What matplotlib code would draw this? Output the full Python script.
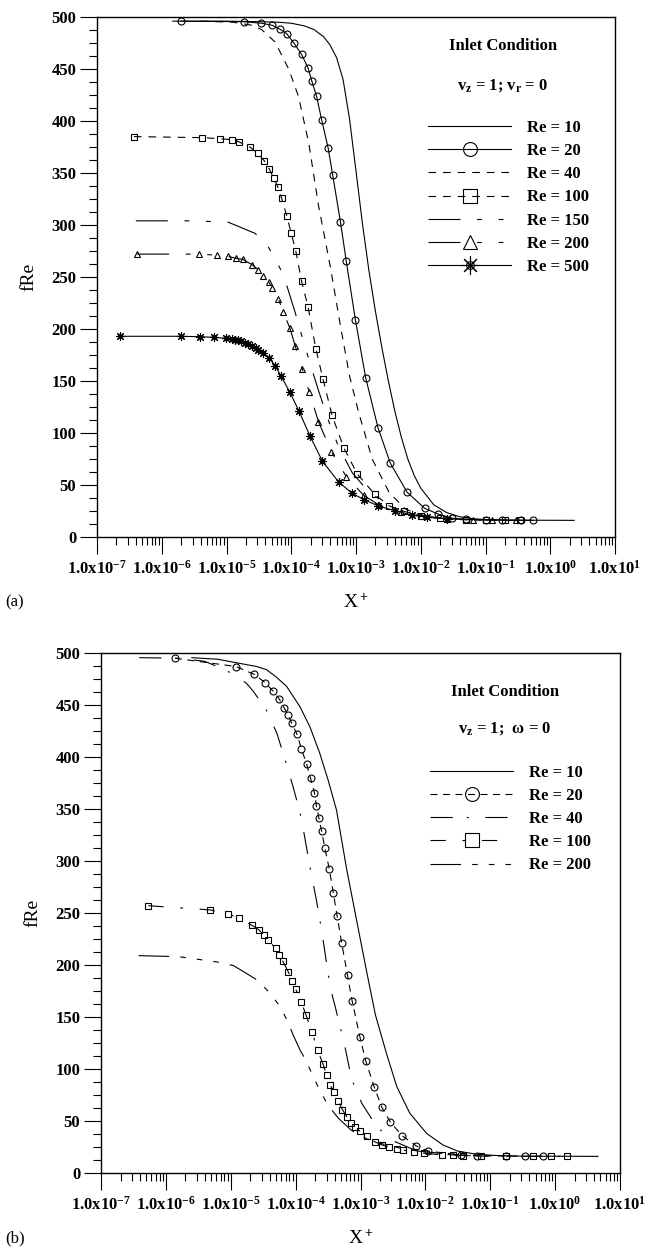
import numpy as np
import matplotlib
matplotlib.use('Agg')
import matplotlib.pyplot as plt
import matplotlib.ticker as mticker
from matplotlib.lines import Line2D
from matplotlib.legend_handler import HandlerTuple

plt.rcParams.update({
    'font.family':       'serif',
    'font.serif':        ['Liberation Serif', 'DejaVu Serif'],
    'font.weight':       'bold',
    'font.size':         12,
    'mathtext.fontset':  'custom',
    'mathtext.rm':       'Liberation Serif:bold',
    'mathtext.it':       'Liberation Serif:bold',
    'mathtext.bf':       'Liberation Serif:bold',
    'mathtext.default':  'rm',
    'lines.scale_dashes': False,
    'axes.linewidth':    1.0,
})

# ---- panel (a): inlet v_z = 1, v_r = 0  (x values are log10 of X+) ----
a_re10_logx = [-5.83, -5.0, -4.5, -4.2, -4.0, -3.8, -3.65, -3.5, -3.4, -3.3, -3.2, -3.1, -3.0, -2.9,
               -2.8, -2.7, -2.6, -2.5, -2.4, -2.3, -2.2, -2.1, -2.0, -1.8, -1.6, -1.4, -1.2, -1.0, -0.6, 0.37]
a_re10_fre = [496, 496, 495.5, 495, 494, 491.5, 488, 481, 473, 461, 440, 402, 352, 301,
              256, 217, 182, 150, 121, 96, 75, 59, 47, 31, 23.5, 19.5, 17.6, 16.8, 16.2, 16]

a_re20_logx = [-5.70, -4.73, -4.46, -4.29, -4.17, -4.07, -3.96, -3.84, -3.74, -3.68, -3.61, -3.53, -3.43,
               -3.36, -3.24, -3.15, -3.01, -2.85, -2.66, -2.47, -2.21, -1.94, -1.73, -1.51, -1.3, -1.0,
               -0.75, -0.45, -0.27]
a_re20_fre = [496, 495.5, 494, 492, 488, 484, 475, 464, 451, 438, 424, 401, 374,
              348, 303, 265, 209, 153, 105, 71, 43, 27.6, 22, 18, 17, 16.5, 16.2, 16, 16]

a_re40_logx = [-5.4, -4.9, -4.6, -4.46, -4.25, -4.04, -3.89, -3.73, -3.58, -3.40, -3.24, -3.1, -2.96,
               -2.75, -2.49, -2.24, -2.0, -1.7, -1.4, -1.0, -0.7]
a_re40_fre = [496, 495, 492, 488, 476, 450, 424, 379, 319, 261, 203, 155, 120,
              75, 43, 27, 21, 18, 16.8, 16.2, 16]

a_re100_logx = [-6.43, -5.38, -5.10, -4.92, -4.81, -4.64, -4.52, -4.42, -4.34, -4.27, -4.21, -4.15,
                -4.07, -4.0, -3.93, -3.84, -3.74, -3.62, -3.51, -3.37, -3.19, -2.98, -2.71, -2.49,
                -2.26, -2.0, -1.7, -1.3, -1.0, -0.7, -0.46]
a_re100_fre = [385, 384, 383, 382, 380, 375, 369, 362, 354, 345, 337, 326,
               309, 292, 275, 246, 221, 181, 152, 117, 86, 60.6, 41, 30,
               24.7, 20, 18, 16.8, 16.3, 16, 16]

a_re150_logx = [-6.40, -5.5, -4.97, -4.56, -4.35, -4.17, -4.07, -3.94, -3.84, -3.7, -3.58, -3.42,
                -3.27, -3.06, -2.80, -2.44, -2.1, -1.7, -1.2, -0.8]
a_re150_fre = [304, 304, 302.6, 292, 278.5, 258, 242, 216, 194, 165, 141, 111,
               87, 62, 43, 28.5, 21, 18, 16.5, 16]

a_re200_logx = [-6.38, -5.43, -5.15, -4.98, -4.86, -4.75, -4.61, -4.51, -4.43, -4.35, -4.29, -4.20,
                -4.12, -4.02, -3.94, -3.83, -3.72, -3.58, -3.38, -3.15, -2.88, -2.65, -2.3, -2.0,
                -1.6, -1.2, -0.9, -0.53]
a_re200_fre = [272, 272, 271, 270, 268, 267, 262, 257, 251, 245.5, 239, 229,
               216, 200.6, 184, 161.5, 139, 111, 82, 58, 40, 31, 24, 20,
               17.5, 16.5, 16.2, 16]

a_re500_logx = [-6.65, -5.70, -5.41, -5.20, -5.01, -4.91, -4.87, -4.82, -4.77, -4.72, -4.67, -4.60,
                -4.55, -4.51, -4.43, -4.34, -4.25, -4.16, -4.02, -3.88, -3.71, -3.52, -3.27, -3.06,
                -2.88, -2.66, -2.39, -2.13, -1.9, -1.6]
a_re500_fre = [193, 193, 192.6, 192, 191, 190, 189.5, 189, 188, 186.5, 185.5, 184,
               182, 180, 176.6, 172, 164.7, 155, 139, 121, 97, 73, 53, 42,
               36, 30, 25, 21, 19, 17.5]

# ---- panel (b): inlet v_z = 1, omega = 0 ----
b_re10_logx = [-5.6, -5.2, -4.86, -4.6, -4.45, -4.3, -4.14, -3.93, -3.78, -3.63, -3.5, -3.37, -3.21,
               -3.06, -2.9, -2.77, -2.6, -2.44, -2.24, -1.98, -1.73, -1.5, -1.2, -0.9, -0.5, 0.66]
b_re10_fre = [495.5, 494, 490, 487, 484, 477, 468, 448, 429, 404, 378, 349, 291,
              243, 192, 152, 115, 83, 57.5, 38, 27, 21, 18, 16.8, 16.2, 16]

b_re20_logx = [-5.86, -4.92, -4.64, -4.47, -4.35, -4.25, -4.18, -4.11, -4.06, -3.98, -3.91, -3.83,
               -3.77, -3.71, -3.68, -3.64, -3.60, -3.55, -3.48, -3.42, -3.36, -3.29, -3.20, -3.13,
               -3.01, -2.92, -2.79, -2.67, -2.54, -2.36, -2.14, -1.96, -1.45, -1.2, -0.76, -0.47, -0.19]
b_re20_fre = [495, 487, 479.5, 471.5, 463.5, 455.5, 447.5, 440, 432.5, 422, 407.7, 393,
              379.5, 365.7, 353, 341, 329, 312.5, 292, 269.5, 247, 221, 190, 165.7,
              131, 108, 83, 63, 49, 36, 26, 21, 17.5, 16.8, 16.3, 16, 16]

b_re40_logx = [-6.41, -5.8, -5.4, -5.06, -4.76, -4.65, -4.45, -4.29, -4.16, -4.04, -3.93, -3.88,
               -3.78, -3.68, -3.60, -3.50, -3.45, -3.39, -3.24, -3.14, -2.98, -2.75, -2.5, -2.2,
               -1.9, -1.5, -1.0]
b_re40_fre = [495.5, 495, 492, 483, 471, 463, 445, 423, 397, 371.5, 346, 330,
              294.5, 262.5, 233.7, 192, 174, 160, 121.5, 91, 67, 44.5, 31, 23,
              19, 17, 16]

b_re100_logx = [-6.27, -5.32, -5.04, -4.88, -4.67, -4.57, -4.49, -4.42, -4.31, -4.25, -4.20, -4.11,
                -4.05, -4.0, -3.91, -3.84, -3.75, -3.66, -3.58, -3.52, -3.47, -3.41, -3.34, -3.28,
                -3.21, -3.15, -3.09, -3.01, -2.90, -2.78, -2.67, -2.56, -2.44, -2.35, -2.18, -2.02,
                -1.75, -1.58, -1.42, -1.15, -0.76, -0.34, -0.07, 0.18]
b_re100_fre = [257, 253, 249, 245.5, 238, 234, 229, 224, 216, 210, 204, 193,
               185, 177, 164, 152, 136, 118, 105, 94, 85, 77.6, 69.5, 61,
               54, 48.5, 44.6, 40, 35.6, 30, 27, 25, 23, 22, 20.5, 19,
               17.5, 17, 16.6, 16.3, 16, 16, 16, 16]

b_re200_logx = [-6.42, -5.8, -5.22, -4.96, -4.76, -4.58, -4.42, -4.25, -4.14, -4.04, -3.93, -3.83,
                -3.73, -3.63, -3.50, -3.34, -3.14, -2.91, -2.70, -2.4, -2.1, -1.7, -1.3]
b_re200_fre = [209, 208, 203, 199.5, 192, 185, 174.5, 161, 148, 133, 118, 107,
               92.6, 80, 65, 52.6, 41, 33, 28.6, 24, 21, 18.5, 17]

a_labels = ['Re = 10', 'Re = 20', 'Re = 40', 'Re = 100', 'Re = 150', 'Re = 200', 'Re = 500']
b_labels = ['Re = 10', 'Re = 20', 'Re = 40', 'Re = 100', 'Re = 200']

LONG_SHORT2 = (0, (23, 12, 3.5, 12, 3.5, 12))
STAR = (8, 2, 0)


def curve(ax, logx, fre, ls='-', marker=None, ms=5):
    return ax.plot(10.0 ** np.asarray(logx), fre, color='black', lw=0.8, linestyle=ls,
                   marker=marker, ms=ms, mfc='none', mec='black', mew=0.8)[0]


def style_axis(ax):
    ax.set_xscale('log')
    ax.set_xlim(1e-7, 1e1)
    ax.set_ylim(0, 500)
    ax.xaxis.set_major_locator(mticker.LogLocator(base=10, numticks=20))
    ax.xaxis.set_minor_locator(mticker.LogLocator(base=10, subs=np.arange(2, 10), numticks=20))
    ax.xaxis.set_minor_formatter(mticker.NullFormatter())
    ax.xaxis.set_major_formatter(mticker.FuncFormatter(
        lambda v, p: r'1.0x10$^{%d}$' % int(round(np.log10(v)))))
    ax.yaxis.set_major_locator(mticker.MultipleLocator(50))
    ax.yaxis.set_minor_locator(mticker.MultipleLocator(12.5))
    ax.tick_params(which='major', direction='out', length=12, width=0.8, labelsize=12)
    ax.tick_params(which='minor', direction='out', length=5.5, width=0.8)
    ax.tick_params(axis='x', which='major', pad=4.5)
    ax.tick_params(axis='y', which='major', pad=3)
    ax.set_xlabel('X$^+$', fontsize=14, labelpad=11)
    ax.set_ylabel('fRe', fontsize=14, labelpad=10)


def legend(ax, handles, labels, top, **kw):
    return ax.legend(handles, labels, loc='upper left', bbox_to_anchor=top, frameon=False,
                     handlelength=5, handletextpad=0.95, labelspacing=0.43, borderpad=0,
                     borderaxespad=0, markerscale=2, prop={'weight': 'bold', 'size': 12}, **kw)


fig = plt.figure(figsize=(6.45, 12.52), dpi=100)
ax_a = fig.add_axes([97 / 645, 1 - 537 / 1252, 518 / 645, 520 / 1252])
ax_b = fig.add_axes([101 / 645, 1 - 1173 / 1252, 519 / 645, 520 / 1252])

# panel (a)
h10 = curve(ax_a, a_re10_logx, a_re10_fre)
h20 = curve(ax_a, a_re20_logx, a_re20_fre, marker='o')
h40 = curve(ax_a, a_re40_logx, a_re40_fre, ls=(0, (5.5, 5)))
h100 = curve(ax_a, a_re100_logx, a_re100_fre, ls=(0, (5.5, 5)), marker='s')
h150 = curve(ax_a, a_re150_logx, a_re150_fre, ls=LONG_SHORT2)
h200 = curve(ax_a, a_re200_logx, a_re200_fre, ls=LONG_SHORT2, marker='^')
h500 = curve(ax_a, a_re500_logx, a_re500_fre, marker=STAR, ms=6.5)
ax_a.plot(10.0 ** np.asarray(a_re500_logx), a_re500_fre, ls='none', marker='o', ms=2.8,
          mfc='none', mec='black', mew=0.8)
h500c = Line2D([], [], ls='none', marker='o', ms=2.8, mfc='none', mec='black', mew=0.8)
style_axis(ax_a)
ax_a.text(0.784, 0.944, 'Inlet Condition', transform=ax_a.transAxes, ha='center', va='center')
ax_a.text(0.784, 0.869, r'v$_\mathrm{z}$ = 1; v$_\mathrm{r}$ = 0', transform=ax_a.transAxes,
          ha='center', va='center')
legend(ax_a, [h10, h20, h40, h100, h150, h200, (h500, h500c)], a_labels, (0.639, 0.802),
       handler_map={tuple: HandlerTuple(ndivide=1)})

# panel (b)
g10 = curve(ax_b, b_re10_logx, b_re10_fre)
g20 = curve(ax_b, b_re20_logx, b_re20_fre, ls=(0, (5, 4)), marker='o')
g40 = curve(ax_b, b_re40_logx, b_re40_fre, ls=(0, (16, 10, 1.5, 12)))
g100 = curve(ax_b, b_re100_logx, b_re100_fre, ls=(0, (11, 12, 2, 12)), marker='s')
g200 = curve(ax_b, b_re200_logx, b_re200_fre, ls=(0, (22, 8, 4, 8, 4, 8, 4, 8)))
style_axis(ax_b)
ax_b.text(0.778, 0.925, 'Inlet Condition', transform=ax_b.transAxes, ha='center', va='center')
ax_b.text(0.778, 0.854, r'v$_\mathrm{z}$ = 1;  ω = 0', transform=ax_b.transAxes,
          ha='center', va='center')
legend(ax_b, [g10, g20, g40, g100, g200], b_labels, (0.634, 0.785))

fig.text(5 / 645, 1 - 602 / 1252, '(a)', fontweight='normal', fontsize=12, va='center')
fig.text(5 / 645, 1 - 1238 / 1252, '(b)', fontweight='normal', fontsize=12, va='center')

fig.savefig('out.png', dpi=100)
